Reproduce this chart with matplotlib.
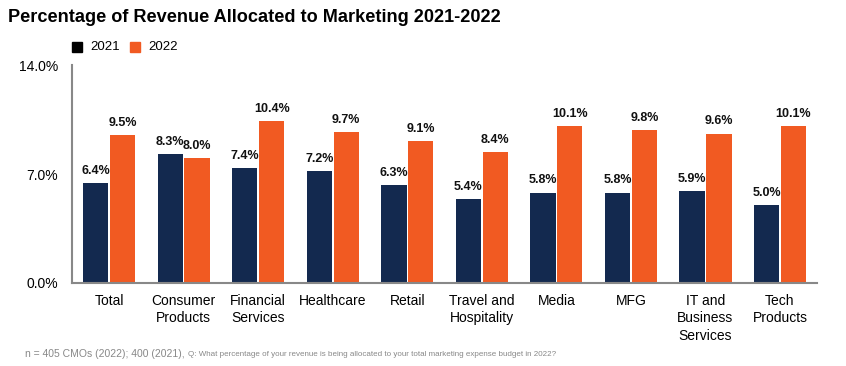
import matplotlib
matplotlib.use("Agg")
from matplotlib import pyplot as plt
from matplotlib.patches import Rectangle
import numpy as np

plt.rcParams["font.family"] = ["Liberation Sans", "DejaVu Sans"]

#data
categories = ["Total", "Consumer\nProducts", "Financial\nServices", "Healthcare", "Retail",
              "Travel and\nHospitality", "Media", "MFG", "IT and\nBusiness\nServices", "Tech\nProducts"]
vals_2021 = [6.4, 8.3, 7.4, 7.2, 6.3, 5.4, 5.8, 5.8, 5.9, 5.0]
vals_2022 = [9.5, 8.0, 10.4, 9.7, 9.1, 8.4, 10.1, 9.8, 9.6, 10.1]
yticks = [0.0, 7.0, 14.0]

navy = "#13294f"
orange = "#f15a22"

fig = plt.figure(figsize=(8.46, 3.66), dpi=100)
ax = fig.add_axes([0.085, 0.227, 0.881, 0.595])

x = np.arange(len(categories))
w = 0.34
b1 = ax.bar(x - w/2 - 0.01, vals_2021, w, color=navy)
b2 = ax.bar(x + w/2 + 0.01, vals_2022, w, color=orange)

for bars, vals in [(b1, vals_2021), (b2, vals_2022)]:
  for bar, v in zip(bars, vals):
    ax.text(bar.get_x() + bar.get_width()/2, v + 0.4, "{:.1f}%".format(v),
            ha="center", va="bottom", fontsize=9, fontweight="bold", color="#111111")

ax.set_xlim(-0.5, len(categories) - 0.5)
ax.set_ylim(0, 14)
ax.set_yticks(yticks)
ax.set_yticklabels(["{:.1f}%".format(t) for t in yticks], fontsize=10)
ax.set_xticks(x)
ax.set_xticklabels(categories, fontsize=10, linespacing=1.3, va="top")
ax.tick_params(axis="both", length=0, pad=8)
ax.tick_params(axis="y", pad=10)
for s in ["top", "right"]:
  ax.spines[s].set_visible(False)
for s in ["left", "bottom"]:
  ax.spines[s].set_color("#888888")
  ax.spines[s].set_linewidth(1.5)

#title and legend
fig.text(8/846, 1 - 18/366, "Percentage of Revenue Allocated to Marketing 2021-2022",
         fontsize=13.1, fontweight="bold", va="center", ha="left")
fig.patches.append(Rectangle((72/846, 1 - 52/366), 10/846, 10/366, color="black", transform=fig.transFigure))
fig.text(90/846, 1 - 47/366, "2021", fontsize=9.5, va="center")
fig.patches.append(Rectangle((130/846, 1 - 52/366), 10/846, 10/366, color=orange, transform=fig.transFigure))
fig.text(148/846, 1 - 47/366, "2022", fontsize=9.5, va="center")

fig.text(25/846, 1 - 354/366, "n = 405 CMOs (2022); 400 (2021),", fontsize=7.5, color="#888888", va="center")
fig.text(188/846, 1 - 354/366, "Q: What percentage of your revenue is being allocated to your total marketing expense budget in 2022?",
         fontsize=5.8, color="#888888", va="center")

fig.savefig("out.png", dpi=100, facecolor="white")
